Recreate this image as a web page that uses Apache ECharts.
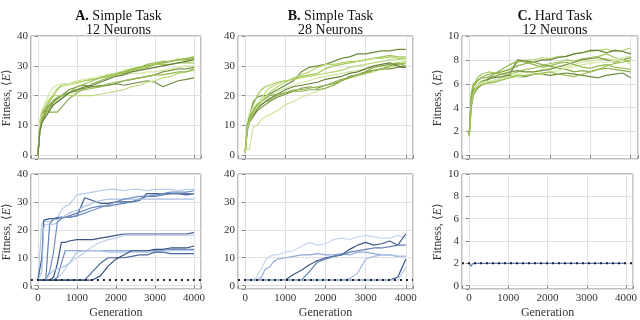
<!DOCTYPE html>
<html>
<head>
    <meta charset="utf-8">
    <title>Fitness curves</title>
    <style type="text/css">
        body {
            margin: 0;
        }
        html, body, #chart {
            width: 640px;
            height: 320px;
        }
    </style>
</head>
<body>

    <div id="chart"></div>
    <script src="https://cdn.jsdelivr.net/npm/echarts@6/dist/echarts.min.js"></script>

    <script>
        // generations sampled for the top row (smooth runs) and bottom row (step-like runs)
        var gensTop = [0, 50, 100, 200, 300, 400, 500, 600, 800, 1000, 1200, 1400, 1600, 1800, 2000, 2200, 2400, 2600, 2800, 3000, 3200, 3400, 3600, 3800, 4000];
        var gensBottom = [0, 50, 100, 150, 200, 300, 400, 500, 600, 700, 800, 1000, 1200, 1400, 1600, 1800, 2000, 2200, 2400, 2600, 2800, 3000, 3200, 3400, 3600, 3800, 4000];

        var titles = ['A.', 'B.', 'C.'];
        var tasks = ['Simple Task', 'Simple Task', 'Hard Task'];
        var neurons = ['12 Neurons', '28 Neurons', '12 Neurons'];
        var xTicks = [0, 1000, 2000, 3000, 4000];
        var chanceLevel = 2;

        var greensA = ['#cfe59a', '#6e8b3d', '#8aad4a', '#bcd97a', '#a3c75a', '#7a9644', '#93b850', '#d4e8a4', '#9bbf52', '#667f3a'];
        var greensB = ['#6e8b3d', '#cfe59a', '#bcd97a', '#a3c75a', '#7a9644', '#93b850', '#d4e8a4', '#667f3a', '#8aad4a', '#b5d46e'];
        var greensC = ['#bcd97a', '#667f3a', '#a3c75a', '#6e8b3d', '#cfe59a', '#8aad4a', '#7a9644', '#d4e8a4', '#93b850', '#9bbf52'];
        var blues = ['#b8cbe8', '#3f5b8c', '#5f7fb3', '#a9bfe3', '#7190c4', '#3a5585', '#c3d3ec', '#6d8cc0', '#aec3e6', '#4a679a', '#34507f'];

        // A. simple task, 12 neurons (top)
        var topA = [
            [0, 9, 13, 16, 19, 21, 22.5, 23, 23.5, 24, 25, 25.5, 26.5, 27, 27.5, 28.5, 29, 29.5, 30, 30.5, 31, 31.5, 32.5, 32, 33.3],
            [0, 8, 11, 14, 16, 18, 19, 20, 21, 22, 22.5, 23, 23, 23.5, 24, 23.5, 24, 24.5, 25, 24.5, 23, 24, 25, 25.5, 26],
            [0, 10, 14, 15, 14.5, 14.5, 14.5, 16, 19, 21, 22.5, 24, 25, 26, 27, 27.5, 28.5, 29.5, 30, 30.5, 31, 31.5, 32, 32, 32.5],
            [0, 10, 15, 17, 19, 20, 20, 20, 20, 20, 20, 20, 20.5, 21, 21.5, 22, 23, 23.5, 24.5, 25, 26, 26.5, 27.5, 28, 28.5],
            [0, 11, 15, 16, 18, 20, 22, 23.5, 24, 24.5, 25, 25.5, 26, 27, 27.5, 28, 28.5, 29, 29.5, 30.5, 30.5, 30.5, 31, 31, 31],
            [0, 9, 12, 15, 17, 18, 19, 20, 22, 23, 23.5, 23, 23.5, 23.5, 24, 25, 25.5, 26, 26.5, 27, 28, 28.5, 29, 29, 29.5],
            [0, 11, 14, 16, 17, 18.5, 19.5, 20, 21, 21.5, 22, 22.5, 23, 24, 24.5, 25, 25.5, 26, 26.5, 27, 27, 27.5, 28, 28, 29],
            [0, 12, 15, 18, 21, 23, 23.5, 24, 24, 25, 25.5, 26, 26, 26.5, 27, 27, 27.5, 27.5, 28, 28, 28.5, 29, 29.5, 30, 30],
            [0, 9, 12, 14, 16, 17, 18, 19, 21, 23, 24, 25, 26, 26.5, 27, 28, 29, 29.5, 30.5, 31, 31.5, 31.5, 32, 32.5, 33],
            [0, 8, 11, 13, 15, 17, 18, 19, 21, 22, 23, 23.5, 24.5, 25.5, 26.5, 27, 28, 28.5, 29, 29.5, 30, 30.5, 31, 31.5, 32]
        ];

        // B. simple task, 28 neurons (top)
        var topB = [
            [1, 9, 13, 18, 19.5, 20, 20, 20.5, 22, 23.5, 25, 28, 29.5, 30, 30.5, 31.5, 32.5, 33, 34, 34, 34.5, 35, 35, 35.5, 35.5],
            [2, 2, 2, 9.5, 10, 12, 13, 13.5, 15, 17, 18, 19.5, 20.5, 21.5, 22.5, 23.5, 25, 26, 26.5, 27.5, 28, 29, 29.5, 30.5, 31.5],
            [1, 10, 12, 15, 17, 19, 21, 22.5, 24, 25, 25.5, 26, 26.5, 27, 27.5, 28, 28.5, 29.5, 30, 30.5, 31, 31.5, 32, 32, 32.5],
            [1.5, 11, 13, 17, 20, 22, 23, 23.5, 24.5, 25, 25.5, 26.5, 27, 27.5, 29, 30, 30.5, 31, 31.5, 32, 32.5, 33, 33.5, 33, 33],
            [1, 8, 11, 13, 15, 16, 17, 18, 19.5, 20.5, 21.5, 22.5, 23, 22.5, 23.5, 24, 25, 26.5, 27, 28, 28.5, 29, 29, 29.5, 29.5],
            [1, 10, 12, 14, 16, 17, 18, 18.5, 20, 21, 22, 22, 22.5, 23, 23.5, 24.5, 25.5, 26, 27, 27.5, 28.5, 29, 30, 30.5, 31],
            [1, 11, 14, 16, 17.5, 18.5, 19.5, 20, 21.5, 22.5, 23.5, 24.5, 25, 26, 26.5, 27, 27.5, 28, 28.5, 29, 29.5, 30, 30.5, 31, 32],
            [1, 9, 11, 13.5, 15.5, 17, 18, 19, 20.5, 22, 23, 23.5, 24, 24.5, 25.5, 26, 26.5, 27.5, 28, 29, 30, 30.5, 31, 30, 29.5],
            [1, 10, 12.5, 15, 17, 18, 19, 20, 20.5, 21, 21.5, 21.5, 22, 22, 22.5, 23.5, 25, 26, 27, 28, 29.5, 30, 30.5, 31, 30],
            [1, 9, 11, 14, 16, 18, 19.5, 21, 23, 24.5, 26, 27, 28, 29.5, 30.5, 30.5, 31, 31.5, 31.5, 32, 32.5, 32.5, 33, 32.5, 32.5]
        ];

        // C. hard task, 12 neurons (top)
        var topC = [
            [1.7, 4.5, 5.5, 5.8, 6.0, 6.2, 6.5, 6.8, 7.0, 7.2, 7.8, 8.0, 8.0, 8.2, 8.1, 8.3, 8.3, 8.5, 8.6, 8.7, 8.8, 8.9, 8.7, 8.8, 9.0],
            [1.7, 4.2, 5.0, 5.6, 5.9, 6.0, 6.1, 6.2, 6.5, 6.8, 8.0, 7.9, 7.8, 8.0, 8.0, 8.2, 8.3, 8.5, 8.6, 8.8, 8.8, 8.6, 8.8, 8.7, 8.5],
            [1.6, 4.8, 5.7, 6.5, 6.8, 6.9, 7.0, 6.9, 6.8, 6.8, 7.0, 7.2, 7.3, 7.5, 7.7, 7.8, 8.0, 7.9, 8.1, 8.2, 8.3, 8.5, 8.2, 8.0, 7.8],
            [1.8, 4.5, 5.3, 5.9, 6.1, 6.2, 6.4, 6.5, 6.6, 6.7, 6.6, 6.6, 6.8, 6.8, 6.7, 6.8, 6.9, 6.8, 6.7, 6.6, 6.5, 6.7, 6.8, 6.9, 6.5],
            [1.5, 4.0, 5.0, 5.8, 6.0, 6.0, 6.0, 6.2, 6.5, 6.6, 6.8, 7.0, 7.0, 7.2, 7.3, 7.5, 7.4, 7.6, 7.8, 7.9, 8.0, 8.1, 8.0, 8.2, 8.3],
            [1.7, 5.0, 5.8, 6.2, 6.5, 6.7, 6.8, 6.9, 7.0, 7.2, 7.5, 7.7, 7.8, 7.6, 7.5, 7.3, 7.2, 7.0, 7.1, 7.0, 7.2, 7.3, 7.2, 7.1, 7.0],
            [1.7, 4.6, 5.4, 5.9, 6.2, 6.3, 6.5, 6.6, 6.8, 7.0, 7.1, 7.0, 7.0, 7.1, 7.2, 7.4, 7.6, 7.8, 8.0, 8.1, 8.2, 8.0, 7.8, 8.0, 8.2],
            [1.6, 4.3, 5.2, 5.9, 6.1, 6.2, 6.2, 6.3, 6.4, 6.5, 6.6, 6.7, 6.8, 6.8, 7.0, 7.1, 7.3, 7.4, 7.6, 7.7, 7.8, 7.8, 7.9, 8.0, 7.6],
            [1.8, 5.2, 6.0, 6.3, 6.5, 6.5, 6.6, 6.8, 7.2, 7.6, 7.9, 7.8, 7.6, 7.4, 7.5, 7.7, 7.8, 7.6, 7.4, 7.3, 7.5, 7.6, 7.4, 7.3, 7.2],
            [1.6, 4.0, 5.1, 5.7, 5.9, 6.0, 6.1, 6.1, 6.3, 6.5, 6.7, 6.7, 6.8, 6.9, 7.0, 6.8, 6.7, 6.6, 6.8, 7.0, 7.2, 7.5, 7.7, 7.8, 8.0]
        ];

        // bottom row
        var botA = [
            [2, 2, 22, 23, 23, 23, 23.5, 24, 27, 28.5, 29, 32.5, 33, 33.5, 34, 34.5, 34.5, 34, 34.5, 34.5, 34, 34.5, 34.5, 34.5, 34, 34.5, 34.5],
            [2, 2, 10, 23.5, 24, 24, 24, 24, 24.5, 24.5, 24.5, 25, 31.5, 30.5, 29.5, 29.5, 30, 30, 30, 30.5, 33, 33, 33, 33, 33, 32.5, 33],
            [2, 2, 2, 2, 2, 22, 24, 24.5, 24.5, 24.5, 25, 26, 27, 28, 28.5, 28.5, 29, 29.5, 30, 31, 32, 32, 32.5, 33, 33, 33, 33],
            [2, 2, 5, 21, 22, 22, 22, 22.5, 24, 25, 26, 27, 28.5, 29.5, 30.5, 31, 31, 31, 31, 31, 31, 31, 31, 31, 31, 31, 31],
            [2, 2, 2, 2, 2, 5, 12, 23, 24, 24.5, 24.5, 25, 26, 27, 28, 29, 30, 31, 31.5, 32, 32, 32.5, 33, 33.5, 33.5, 33.5, 34],
            [2, 2, 2, 2, 2, 2, 3, 8, 15.5, 15.5, 16, 16.5, 16.5, 16.5, 17, 17.5, 18, 18.5, 18.5, 18.5, 18.5, 18.5, 18.5, 18.5, 18.5, 18.5, 19],
            [2, 2, 2, 2, 2, 2, 2, 3, 4, 6, 8, 10, 12, 14, 15.5, 16.5, 17, 18, 18, 18, 18, 18, 18, 18, 18, 18, 18],
            [2, 2, 2, 2, 2, 2, 2, 3, 8, 12.5, 12.5, 12.5, 12.5, 12.5, 12.5, 12.5, 12.5, 12.5, 12.5, 12.5, 12.5, 12.5, 12.5, 13, 13, 13, 13],
            [2, 2, 2, 2, 2, 4, 5.5, 6, 6.5, 7, 8, 12, 12.5, 12.5, 12.5, 12, 12, 12, 12, 12, 12, 12, 12.5, 12.5, 12.5, 12.5, 12.5],
            [2, 2, 2, 2, 2, 2, 2, 2, 2, 2, 2, 2, 2, 5, 8, 10, 10, 10, 10.5, 11, 11, 12, 12, 11.5, 11.5, 11.5, 11.5],
            [2, 2, 2, 2, 2, 2, 2, 2, 2, 2, 2, 2, 2, 2, 3.5, 7, 9.5, 11, 12.5, 12.5, 12.5, 13, 13, 13.5, 13.5, 13.5, 14.2]
        ];
        var botB = [
            [2, 2, 2, 2, 2, 3.5, 6, 9, 10.5, 11, 11, 12, 12.5, 14, 15.5, 14.5, 15, 16.5, 17, 16.5, 17.5, 18, 17.5, 17, 17, 18, 17],
            [2, 2, 2, 2, 2, 2, 3, 6, 6.5, 8.5, 9.5, 10, 10.5, 11, 11, 11.5, 11, 11, 11.5, 11, 12, 12, 11.5, 11, 11, 10.5, 10.5],
            [2, 2, 2, 2, 2, 2, 2, 2, 2, 2, 2, 2, 4, 5.5, 7.5, 9, 10, 10.5, 11, 13, 14.5, 15.5, 14.5, 15, 16, 14.5, 18.5],
            [2, 2, 2, 2, 2, 2, 2, 2, 2, 2, 2, 2, 2, 2, 5, 8.5, 9.5, 10.5, 11, 12, 12.5, 13, 13.5, 13.5, 14, 14.5, 14.5],
            [2, 2, 2, 2, 2, 2, 2, 2, 2, 2, 2, 2, 2, 2, 2, 2, 2, 2, 2, 2.5, 4.5, 9.5, 10.5, 11, 11, 10.5, 10.5],
            [2, 2, 2, 2, 2, 2, 2, 2, 2, 2, 2, 2, 2, 2, 2, 2, 2, 2, 2, 2, 2, 2, 2, 2, 2, 3, 9.5],
            [2, 2, 2, 2, 2, 2, 2, 2, 2, 2, 2, 2, 2, 2, 2, 2, 2, 2, 2, 2, 2, 2, 2, 2, 2, 2, 6.5]
        ];
        var botBColors = ['#c8d6ee', '#90abd8', '#3f5b8c', '#5f7fb3', '#a9bfe3', '#3a5585', '#b8cbe8'];
        var botC = [
            [2, 1.75, 2, 2, 2, 2, 2, 2, 2, 2, 2, 2, 2, 2, 2, 2, 2, 2, 2, 2, 2, 2, 2, 2, 2, 2, 2]
        ];

        var font = 'Liberation Serif';
        var lefts = [26, 238, 462];
        var widths = [175, 175, 176];
        var tops = [36, 174];
        var heights = [123, 124];
        var yMax = [40, 40, 10];

        var chart = echarts.init(document.getElementById('chart'), null, {renderer: 'canvas'});

        var grids = [], xAxes = [], yAxes = [], series = [], titleList = [];

        // grid order: A top, A bottom, B top, B bottom, C top, C bottom
        for (var c = 0; c < 3; c++) {
            titleList.push({
                text: '{b|' + titles[c] + '} ' + tasks[c] + '\n' + neurons[c],
                left: lefts[c] + widths[c] / 2,
                top: 4,
                textAlign: 'center',
                textStyle: {
                    fontFamily: font, fontSize: 14, fontWeight: 'normal', color: '#111', lineHeight: 14,
                    rich: {b: {fontFamily: font, fontSize: 14, fontWeight: 'bold', color: '#111'}}
                }
            });
            for (var r = 0; r < 2; r++) {
                var idx = c * 2 + r;
                grids.push({
                    left: lefts[c], top: tops[r], width: widths[c], height: heights[r],
                    show: true, borderColor: '#808080', borderWidth: 1
                });
                xAxes.push({
                    type: 'value', gridIndex: idx, min: -180, max: 4180,
                    axisLine: {show: false},
                    axisTick: {show: true, length: 3, lineStyle: {color: '#808080'}},
                    splitLine: {lineStyle: {color: '#e0e0e0'}},
                    axisLabel: {
                        show: r === 1, fontFamily: font, fontSize: 11, color: '#333', margin: 4,
                        formatter: function (v) { return xTicks.indexOf(v) >= 0 ? String(v) : ''; }
                    },
                    name: r === 1 ? 'Generation' : '',
                    nameLocation: 'middle', nameGap: 18,
                    nameTextStyle: {fontFamily: font, fontSize: 12, color: '#333'}
                });
                var ym = yMax[c];
                yAxes.push({
                    type: 'value', gridIndex: idx, min: -ym * 0.03, max: ym,
                    axisLine: {show: false},
                    axisTick: {show: true, length: 3, lineStyle: {color: '#808080'}},
                    splitLine: {lineStyle: {color: '#e0e0e0'}},
                    axisLabel: {
                        fontFamily: font, fontSize: 11, color: '#333', margin: 3,
                        formatter: function (v) { return v >= 0 ? String(v) : ''; }
                    },
                    name: c === 1 ? '' : 'Fitness, \u27e8{i|E}\u27e9',
                    nameLocation: 'middle', nameGap: 16, nameRotate: 90,
                    nameTextStyle: {
                        fontFamily: font, fontSize: 12, color: '#333',
                        rich: {i: {fontFamily: font, fontSize: 12, fontStyle: 'italic', color: '#333'}}
                    }
                });
            }
        }

        function addLines(data, gens, colors, axisIdx) {
            data.forEach(function (vals, j) {
                series.push({
                    type: 'line', xAxisIndex: axisIdx, yAxisIndex: axisIdx,
                    data: gens.map(function (g, k) { return [g, vals[k]]; }),
                    showSymbol: false, silent: true,
                    lineStyle: {width: 1.2, color: colors[j % colors.length]}
                });
            });
        }

        addLines(topA, gensTop, greensA, 0);
        addLines(botA, gensBottom, blues, 1);
        addLines(topB, gensTop, greensB, 2);
        addLines(botB, gensBottom, botBColors, 3);
        addLines(topC, gensTop, greensC, 4);
        addLines(botC, gensBottom, ['#5f7fb3'], 5);

        // chance level, dotted
        [1, 3, 5].forEach(function (i) {
            series.push({
                type: 'line', xAxisIndex: i, yAxisIndex: i, z: 5,
                data: [[-180, chanceLevel], [4180, chanceLevel]],
                showSymbol: false, silent: true,
                lineStyle: {width: 2, color: '#1c2233', type: [2, 4]}
            });
        });

        chart.setOption({
            animation: false,
            title: titleList,
            grid: grids,
            xAxis: xAxes,
            yAxis: yAxes,
            series: series
        });
    </script>
</body>
</html>
